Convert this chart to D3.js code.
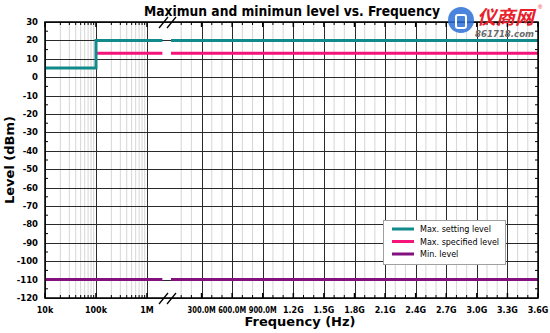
<!DOCTYPE html>
<html><head><meta charset="utf-8">
<script src="https://cdn.jsdelivr.net/npm/d3@7"></script>
<style>body{margin:0;background:#fff}svg{display:block}</style>
</head><body>
<svg id="c" width="550" height="333"></svg>
<script>
// ---- data ----
const title = "Maximun and minimun level vs. Frequency";
const xTitle = "Frequency (Hz)";
const yTitle = "Level (dBm)";
const seriesNames = ["Max. setting level", "Max. specified level", "Min. level"];
const seriesColors = ["#12898a", "#f5157a", "#82107f"];
const maxSettingFreq = [1e4, 1e5, 1e5, 3.6e9];
const maxSettingLevel = [5, 5, 20, 20];
const maxSpecifiedFreq = [1e5, 3.6e9];
const maxSpecifiedLevel = [13, 13];
const minLevelFreq = [1e4, 3.6e9];
const minLevelLevel = [-110, -110];
const logTicks = [1e4, 1e5, 1e6];
const logTickLabels = ["10k", "100k", "1M"];
const linTicks = [3e8, 6e8, 9e8, 1.2e9, 1.5e9, 1.8e9, 2.1e9, 2.4e9, 2.7e9, 3.0e9, 3.3e9, 3.6e9];
const linTickLabels = ["300.0M", "600.0M", "900.0M", "1.2G", "1.5G", "1.8G", "2.1G", "2.4G", "2.7G", "3.0G", "3.3G", "3.6G"];
const yTicks = [30, 20, 10, 0, -10, -20, -30, -40, -50, -60, -70, -80, -90, -100, -110, -120];

// ---- layout ----
const L = 45, R = 538, T = 22, B = 298;
const logEnd = 2e6;
const xLog = d3.scaleLog().domain([1e4, 1e6]).range([L, 147]);
const xLin = d3.scaleLinear().domain([0, 3.6e9]).range([171, R]);
const y = d3.scaleLinear().domain([-120, 30]).range([B, T]);
const svg = d3.select("#c");
const bold = "'DejaVu Sans', Verdana, sans-serif";

// grid
const g = svg.append("g");
const logMinor = [];
[1e4, 1e5].forEach(d => { for (let k = 2; k <= 9; k++) logMinor.push(d * k); });
g.selectAll(".lm").data(logMinor).join("line")
  .attr("x1", d => xLog(d)).attr("x2", d => xLog(d)).attr("y1", T).attr("y2", B)
  .attr("stroke", "#d6d6d6").attr("stroke-width", 1);
const linMinor = d3.range(1e8, 3.6e9, 1e8).filter(d => Math.round(d / 1e8) % 3 !== 0);
g.selectAll(".nm").data(linMinor).join("line")
  .attr("x1", d => xLin(d)).attr("x2", d => xLin(d)).attr("y1", T).attr("y2", B)
  .attr("stroke", "#d6d6d6").attr("stroke-width", 1);
g.selectAll(".hy").data(yTicks).join("line")
  .attr("x1", L).attr("x2", R).attr("y1", d => Math.round(y(d)) + 0.5).attr("y2", d => Math.round(y(d)) + 0.5)
  .attr("stroke", "#2a2a2a").attr("stroke-width", 1);
g.selectAll(".vl").data(logTicks).join("line")
  .attr("x1", d => Math.round(xLog(d)) + 0.5).attr("x2", d => Math.round(xLog(d)) + 0.5).attr("y1", T).attr("y2", B)
  .attr("stroke", "#2a2a2a").attr("stroke-width", 1);
g.selectAll(".vn").data(linTicks).join("line")
  .attr("x1", d => Math.round(xLin(d)) + 0.5).attr("x2", d => Math.round(xLin(d)) + 0.5).attr("y1", T).attr("y2", B)
  .attr("stroke", "#2a2a2a").attr("stroke-width", 1);

// ticks on frame
const tk = svg.append("g").attr("stroke", "#000").attr("stroke-width", 1);
const xMinorPos = logMinor.map(d => xLog(d)).concat(linMinor.map(d => xLin(d)));
const xMajorPos = logTicks.map(d => xLog(d)).concat(linTicks.map(d => xLin(d)));
xMinorPos.forEach(p => {
  tk.append("line").attr("x1", p).attr("x2", p).attr("y1", B).attr("y2", B - 3);
  tk.append("line").attr("x1", p).attr("x2", p).attr("y1", T).attr("y2", T + 3);
});
xMajorPos.forEach(p => {
  tk.append("line").attr("x1", p).attr("x2", p).attr("y1", B).attr("y2", B - 5).attr("stroke-width", 1.5);
  tk.append("line").attr("x1", p).attr("x2", p).attr("y1", T).attr("y2", T + 5).attr("stroke-width", 1.5);
});
d3.range(-115, 30, 10).forEach(v => {
  tk.append("line").attr("x1", L).attr("x2", L + 3).attr("y1", y(v)).attr("y2", y(v));
  tk.append("line").attr("x1", R).attr("x2", R - 3).attr("y1", y(v)).attr("y2", y(v));
});

// series
const series = [
  {f: maxSettingFreq, v: maxSettingLevel},
  {f: maxSpecifiedFreq, v: maxSpecifiedLevel},
  {f: minLevelFreq, v: minLevelLevel}
];
function valueAt(s, f) { let val = s.v[0]; s.f.forEach((ff, i) => { if (ff <= f) val = s.v[i]; }); return val; }
const lineLog = d3.line().x(d => xLog(d[0])).y(d => y(d[1]));
const lineLin = d3.line().x(d => xLin(d[0])).y(d => y(d[1]));
[2, 1, 0].forEach(i => {
  const s = series[i];
  const logPts = s.f.map((f, j) => [f, s.v[j]]).filter(p => p[0] <= logEnd);
  logPts.push([logEnd, valueAt(s, logEnd)]);
  const linPts = [[0, valueAt(s, logEnd)]].concat(s.f.map((f, j) => [f, s.v[j]]).filter(p => p[0] > logEnd));
  svg.append("path").attr("d", lineLog(logPts)).attr("fill", "none")
    .attr("stroke", seriesColors[i]).attr("stroke-width", 3);
  svg.append("path").attr("d", lineLin(linPts)).attr("fill", "none")
    .attr("stroke", seriesColors[i]).attr("stroke-width", 3);
});

// frame
svg.append("rect").attr("x", L).attr("y", T).attr("width", R - L).attr("height", B - T)
  .attr("fill", "none").attr("stroke", "#000").attr("stroke-width", 1.5);

// axis break marks
[T, B].forEach(yy => {
  [0, 8].forEach(dx => {
    svg.append("line").attr("x1", 159 + dx).attr("y1", yy + 6).attr("x2", 168 + dx).attr("y2", yy - 5)
      .attr("stroke", "#000").attr("stroke-width", 1.3);
  });
});

// y tick labels
svg.append("g").selectAll("text").data(yTicks).join("text")
  .attr("x", 38).attr("y", d => y(d) + 3).attr("text-anchor", "end")
  .attr("font-family", bold).attr("font-weight", "bold").attr("font-size", 8.5)
  .text(d => d);
// x tick labels
const xl = svg.append("g").attr("font-family", bold).attr("font-weight", "bold").attr("font-size", 8)
  .attr("text-anchor", "middle");
logTicks.forEach((d, i) => xl.append("text").attr("x", xLog(d)).attr("y", 313).text(logTickLabels[i]));
linTicks.forEach((d, i) => xl.append("text").attr("x", xLin(d)).attr("y", 313).text(linTickLabels[i]));
xl.selectAll("text").each(function() {
  const w = this.getComputedTextLength();
  if (this.textContent.length > 5 && w > 28) d3.select(this).attr("textLength", 28).attr("lengthAdjust", "spacingAndGlyphs");
});

// titles
svg.append("text").attr("x", 292).attr("y", 16).attr("text-anchor", "middle")
  .attr("font-family", bold).attr("font-weight", "bold").attr("font-size", 13.5)
  .attr("textLength", 296).attr("lengthAdjust", "spacingAndGlyphs").text(title);
svg.append("text").attr("x", 300).attr("y", 326).attr("text-anchor", "middle")
  .attr("font-family", bold).attr("font-weight", "bold").attr("font-size", 13).text(xTitle);
svg.append("text").attr("transform", "translate(14,160) rotate(-90)").attr("text-anchor", "middle")
  .attr("font-family", bold).attr("font-weight", "bold").attr("font-size", 13).text(yTitle);

// legend
const lg = svg.append("g");
lg.append("rect").attr("x", 383.5).attr("y", 220.5).attr("width", 122).attr("height", 44)
  .attr("fill", "#fff").attr("stroke", "#a0a0a0");
seriesNames.forEach((n, i) => {
  const yy = 229 + i * 12.5;
  lg.append("line").attr("x1", 392).attr("x2", 414).attr("y1", yy).attr("y2", yy)
    .attr("stroke", seriesColors[i]).attr("stroke-width", 3);
  lg.append("text").attr("x", 420).attr("y", yy + 3).attr("font-family", "'DejaVu Sans', sans-serif")
    .attr("font-size", 8).text(n);
});

// watermark
const wm = svg.append("g");
wm.append("circle").attr("cx", 461).attr("cy", 20).attr("r", 13).attr("fill", "#2b6fd6").attr("opacity", 0.85);
wm.append("rect").attr("x", 456).attr("y", 15).attr("width", 10).attr("height", 13).attr("rx", 2)
  .attr("fill", "none").attr("stroke", "#fff").attr("stroke-width", 2);
wm.append("text").attr("x", 477).attr("y", 24).attr("fill", "#e8202a")
  .attr("font-family", "'Noto Sans CJK SC', sans-serif").attr("font-weight", "bold").attr("font-size", 19)
  .attr("font-style", "italic").text("仪商网");
wm.append("text").attr("x", 538).attr("y", 9).attr("fill", "#e8202a").attr("font-size", 6)
  .attr("font-family", "sans-serif").text("®");
wm.append("text").attr("x", 475).attr("y", 37).attr("fill", "#6b6b6b")
  .attr("font-family", bold).attr("font-weight", "bold").attr("font-style", "italic").attr("font-size", 9)
  .attr("textLength", 59).attr("lengthAdjust", "spacingAndGlyphs").text("861718.com");
</script>
</body></html>
